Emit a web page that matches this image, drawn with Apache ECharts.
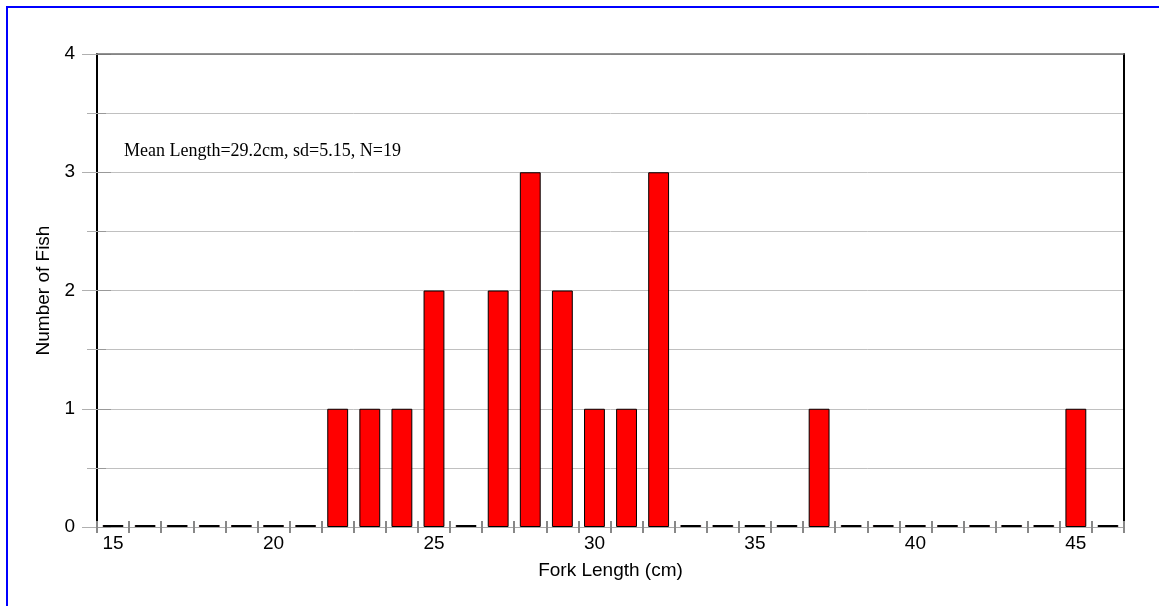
<!DOCTYPE html>
<html>
<head>
<meta charset="utf-8">
<script src="https://cdn.jsdelivr.net/npm/echarts@6/dist/echarts.min.js"></script>
<style>
  html, body { margin: 0; padding: 0; background: #fff; }
  #chart { width: 1159px; height: 606px; }
</style>
</head>
<body>
<div id="chart"></div>
<script>
// fork length classes (cm) and fish counts per class
const lengths = ['15','16','17','18','19','20','21','22','23','24','25','26','27','28','29','30',
                 '31','32','33','34','35','36','37','38','39','40','41','42','43','44','45','46']
const counts  = [0,0,0,0,0,0,0,1,1,1,2,0,2,3,2,1,
                 1,3,0,0,0,0,1,0,0,0,0,0,0,0,1,0]
const note    = 'Mean Length=29.2cm, sd=5.15, N=19'

const sans  = '"Liberation Sans", Arial, sans-serif'
const serif = '"Liberation Serif", "Times New Roman", serif'

const chart = echarts.init(document.getElementById('chart'))

const hidden = { show: false }

chart.setOption({
  animation: false,
  backgroundColor: '#fff',
  grid: { left: 97, right: 35, top: 54, bottom: 79 },
  xAxis: [
    {
      type: 'category',
      data: lengths,
      position: 'bottom',
      name: 'Fork Length (cm)',
      nameLocation: 'middle',
      nameGap: 34,
      nameTextStyle: { color: '#000', fontSize: 19, fontFamily: sans },
      axisLine: { onZero: false, lineStyle: { color: '#a8a8a8', width: 1 } },
      axisTick: { show: true, interval: 0, inside: false, length: 6, lineStyle: { color: '#888', width: 2 } },
      axisLabel: {
        interval: (i, v) => Number(v) % 5 === 0,
        margin: 7,
        color: '#000', fontSize: 19, fontFamily: sans
      },
      splitLine: hidden
    },
    {
      // inner half of the crossing ticks
      type: 'category',
      data: lengths,
      position: 'bottom',
      axisLine: { show: false, onZero: false },
      axisTick: { show: true, interval: 0, inside: true, length: 6, lineStyle: { color: '#888', width: 2 } },
      axisLabel: hidden,
      splitLine: hidden
    },
    {
      // top frame line
      type: 'category',
      data: lengths,
      position: 'top',
      z: 10,
      axisLine: { onZero: false, lineStyle: { color: '#707070', width: 1.5 } },
      axisTick: hidden,
      axisLabel: hidden,
      splitLine: hidden
    }
  ],
  yAxis: [
    {
      type: 'value',
      min: 0, max: 4, interval: 1,
      position: 'left',
      name: 'Number of Fish',
      nameLocation: 'middle',
      nameGap: 37,
      nameTextStyle: { color: '#000', fontSize: 19, fontFamily: sans },
      axisLine: { show: true, lineStyle: { color: '#000', width: 2 } },
      axisTick: { show: true, length: 15, lineStyle: { color: '#b0b0b0' } },
      minorTick: { show: true, splitNumber: 2, length: 10, lineStyle: { color: '#b0b0b0' } },
      axisLabel: { margin: 22, color: '#000', fontSize: 19, fontFamily: sans },
      splitLine: { show: true, lineStyle: { color: '#c0c0c0', width: 1 } },
      minorSplitLine: { show: true, lineStyle: { color: '#c0c0c0', width: 1 } }
    },
    {
      // right frame line
      type: 'value',
      min: 0, max: 4, interval: 1,
      position: 'right',
      axisLine: { show: true, lineStyle: { color: '#000', width: 2 } },
      axisTick: hidden,
      axisLabel: hidden,
      splitLine: hidden
    },
    {
      // inner part of the left ticks, a bit darker than the grid
      type: 'value',
      min: 0, max: 4, interval: 1,
      position: 'left',
      axisLine: hidden,
      axisTick: { show: true, inside: true, length: 14, lineStyle: { color: '#999' } },
      minorTick: { show: true, splitNumber: 2, length: 9, lineStyle: { color: '#999' } },
      axisLabel: hidden,
      splitLine: hidden
    }
  ],
  series: [{
    type: 'bar',
    data: counts,
    xAxisIndex: 0,
    yAxisIndex: 0,
    barWidth: '65%',
    barMinHeight: 2,
    z: 3,
    itemStyle: { color: '#ff0000', borderColor: '#000', borderWidth: 1 }
  }],
  graphic: [
    {
      type: 'text',
      left: 124, top: 142,
      style: { text: note, fill: '#000', font: '18px ' + serif }
    },
    {
      type: 'polyline',
      shape: { points: [[7, 606], [7, 7], [1159, 7]] },
      style: { stroke: '#0000ff', lineWidth: 2, fill: null }
    }
  ]
})
</script>
</body>
</html>
